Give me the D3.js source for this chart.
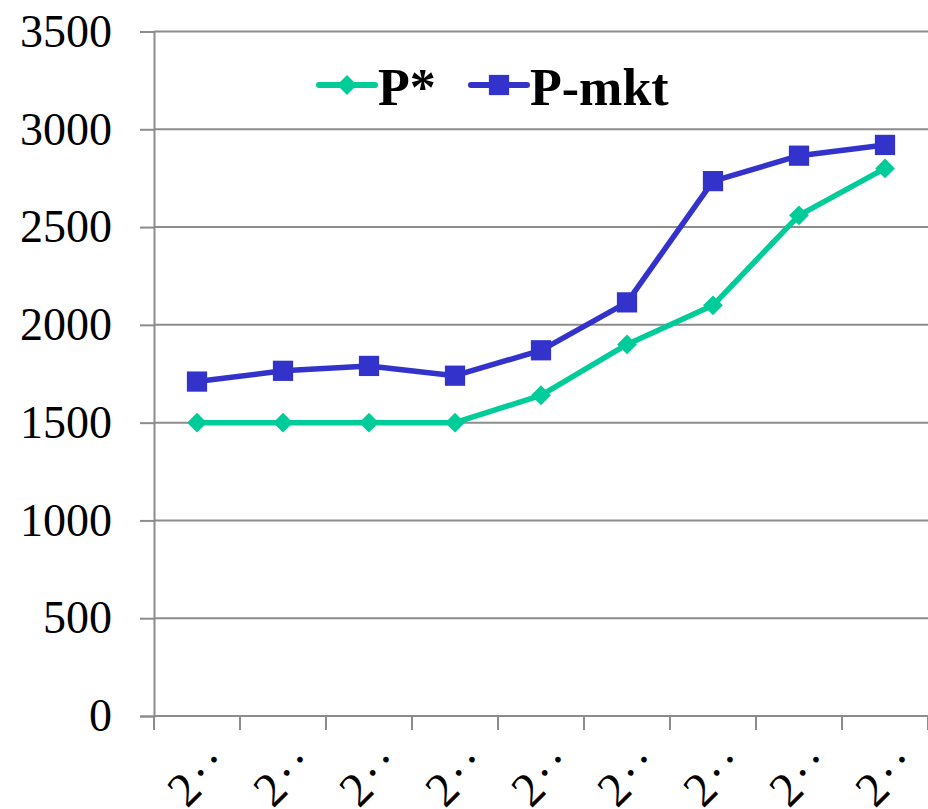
<!DOCTYPE html>
<html>
<head>
<meta charset="utf-8">
<script src="https://cdn.jsdelivr.net/npm/d3@7"></script>
<style>
  body { margin: 0; background: #fff; }
  svg { display: block; font-family: "Liberation Serif", "Times New Roman", serif; }
</style>
</head>
<body>
<svg id="chart"></svg>
<script>
// truncated category labels, as shown on the chart
const categories = ['2··', '2··', '2··', '2··', '2··', '2··', '2··', '2··', '2··']
const pStar = [1500, 1500, 1500, 1500, 1640, 1900, 2100, 2560, 2800]
const pMkt = [1710, 1765, 1790, 1740, 1870, 2115, 2735, 2865, 2920]
const yTicks = [0, 500, 1000, 1500, 2000, 2500, 3000, 3500]
const seriesNames = ['P*', 'P-mkt']

const W = 928, H = 809
const mLeft = 154, mRight = 928, mTop = 31.5, mBottom = 716
const green = '#00cc99', blue = '#3333cc', grid = '#8c8c8c'

const svg = d3.select('#chart').attr('width', W).attr('height', H)

const idx = categories.map((d, i) => i)
const x = d3.scaleBand().domain(idx).range([mLeft, mRight])
const y = d3.scaleLinear().domain([0, 3500]).range([mBottom, mTop])
const cx = i => x(i) + x.bandwidth() / 2

// gridlines
svg.append('g')
    .selectAll('line')
    .data(yTicks)
    .join('line')
    .attr('x1', mLeft).attr('x2', mRight)
    .attr('y1', d => y(d)).attr('y2', d => y(d))
    .attr('stroke', grid).attr('stroke-width', 2)

// y axis
const yAxis = svg.append('g')
    .attr('transform', `translate(${mLeft},0)`)
    .call(d3.axisLeft(y).tickValues(yTicks).tickSize(14).tickPadding(28).tickFormat(d3.format('d')))
yAxis.attr('font-family', null)
yAxis.select('.domain').attr('stroke', grid).attr('stroke-width', 2)
yAxis.selectAll('.tick line').attr('stroke', grid).attr('stroke-width', 2)
yAxis.selectAll('.tick text')
    .attr('font-size', 46).attr('fill', '#000')

// x ticks at category boundaries
const bounds = idx.map(i => x(i)).concat([x(idx[idx.length - 1]) + x.bandwidth()])
svg.append('g')
    .selectAll('line')
    .data(bounds)
    .join('line')
    .attr('x1', d => d).attr('x2', d => d)
    .attr('y1', mBottom).attr('y2', mBottom + 14)
    .attr('stroke', grid).attr('stroke-width', 2)

svg.append('g')
    .selectAll('text')
    .data(idx)
    .join('text')
    .attr('transform', i => `translate(${cx(i) + 36},${mBottom + 47}) rotate(-45)`)
    .attr('text-anchor', 'end')
    .attr('font-size', 48)
    .attr('letter-spacing', 3)
    .text(i => categories[i])

// lines
const line = d3.line().x((d, i) => cx(i)).y(d => y(d))

svg.append('path').datum(pStar)
    .attr('d', line).attr('fill', 'none')
    .attr('stroke', green).attr('stroke-width', 5.5).attr('stroke-linejoin', 'round')
svg.append('path').datum(pMkt)
    .attr('d', line).attr('fill', 'none')
    .attr('stroke', blue).attr('stroke-width', 5.5).attr('stroke-linejoin', 'round')

const diamond = d3.symbol().type(d3.symbolDiamond2).size(250)
const square = d3.symbol().type(d3.symbolSquare).size(410)

svg.append('g').selectAll('path')
    .data(pStar)
    .join('path')
    .attr('d', diamond)
    .attr('transform', (d, i) => `translate(${cx(i)},${y(d)})`)
    .attr('fill', green)

svg.append('g').selectAll('path')
    .data(pMkt)
    .join('path')
    .attr('d', square)
    .attr('transform', (d, i) => `translate(${cx(i)},${y(d)})`)
    .attr('fill', blue)

// legend
const legend = svg.append('g')
const items = [
    { name: seriesNames[0], color: green, sym: diamond, x0: 319 },
    { name: seriesNames[1], color: blue, sym: square, x0: 471 }
]
items.forEach(it => {
    legend.append('line')
        .attr('x1', it.x0).attr('x2', it.x0 + 56)
        .attr('y1', 85).attr('y2', 85)
        .attr('stroke', it.color).attr('stroke-width', 6).attr('stroke-linecap', 'round')
    legend.append('path')
        .attr('d', it.sym)
        .attr('transform', `translate(${it.x0 + 28},85)`)
        .attr('fill', it.color)
    legend.append('text')
        .attr('x', it.x0 + 59).attr('y', 105)
        .attr('font-size', 52).attr('font-weight', 'bold')
        .text(it.name)
})
</script>
</body>
</html>
